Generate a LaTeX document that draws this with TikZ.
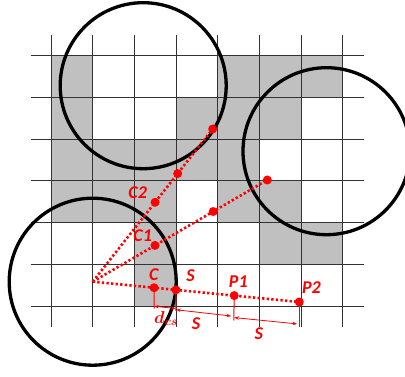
\documentclass[tikz,border=0pt]{standalone}
\usepackage{fontspec}
\setmainfont{Carlito}
\usetikzlibrary{calc,arrows.meta}
\definecolor{cellgray}{RGB}{192,192,192}
\definecolor{pred}{RGB}{255,0,0}
\tikzset{
  gridline/.style={line width=1pt, draw=black!80},
  bigcircle/.style={line width=3.3pt, draw=black},
  rayline/.style={draw=pred, line width=2.6pt, dash pattern=on 2.3pt off 2.3pt},
  rdot/.style={circle, fill=pred, inner sep=0pt, minimum size=9pt},
  lbl/.style={text=pred, inner sep=0pt, font=\bfseries\itshape\fontsize{18}{18}\selectfont},
  mathlbl/.style={text=pred, inner sep=0pt, font=\boldmath\fontsize{17}{17}\selectfont},
  tickline/.style={draw=pred, line width=1pt},
  dimarrow/.style={draw=pred, line width=0.8pt, {Stealth[length=4.5pt,width=3.5pt]}-{Stealth[length=4.5pt,width=3.5pt]}}
}
\begin{document}
\begin{tikzpicture}[x=1pt,y=-1pt]
\useasboundingbox (0,0) rectangle (405,377);
\clip (0,0) rectangle (405,377);
% gray cells
\foreach \c/\r in {0/0,4/0,5/0,6/0, 0/1,3/1,4/1,5/1, 0/2,1/2,2/2,3/2,4/2, 0/3,1/3,2/3,4/3,5/3, 2/4,5/4,6/4, 2/5}
  \fill[cellgray] (51+41.667*\c,56+41.667*\r) rectangle ++(41.667,41.667);
% grid
\foreach \i in {0,...,7}
  \draw[gridline] (51+41.667*\i,35) -- (51+41.667*\i,327);
\foreach \j in {0,...,6}
  \draw[gridline] (30.5,56+41.667*\j) -- (364,56+41.667*\j);
% circles
\coordinate (O) at (92.7,281.7);
\coordinate (K1) at (143.2,85.7);
\coordinate (K2) at (326.5,151.2);
\draw[bigcircle] (K1) circle[radius=83];
\draw[bigcircle] (K2) circle[radius=83.5];
\draw[bigcircle] (O) circle[radius=83.5];
% ray end points
\coordinate (P2) at (299.3,302);
\coordinate (T1) at (267.3,180);
\coordinate (T2) at (212.7,129);
\coordinate (C) at ($(O)!0.297!(P2)$);
\coordinate (S) at ($(O)!0.403!(P2)$);
\coordinate (P1) at ($(O)!0.685!(P2)$);
\coordinate (C1) at ($(O)!0.357!(T1)$);
\coordinate (M1) at ($(O)!0.69!(T1)$);
\coordinate (C2) at ($(O)!0.52!(T2)$);
\coordinate (M2) at ($(O)!0.708!(T2)$);
% rays
\draw[rayline] (O) -- (P2);
\draw[rayline] (O) -- (T1);
\draw[rayline] (O) -- (T2);
% dots
\foreach \p in {C,S,P1,P2,C1,M1,T1,C2,M2,T2}
  \node[rdot] (d\p) at (\p) {};
% ticks
\coordinate (Cb) at (154,308.5);
\coordinate (Sb) at (176,311);
\coordinate (P1b) at (233.8,320.5);
\coordinate (P2b) at (299.3,327);
\draw[tickline] (C) -- (Cb);
\draw[tickline] (S) -- (Sb);
\draw[tickline] (P1) -- (P1b);
\draw[tickline, line width=1.4pt] (P2) -- (P2b);
% dimension arrows
\coordinate (dA1) at (154.3,306.3);
\coordinate (dA2) at (175.7,308.5);
\coordinate (dB1) at (176.3,309.8);
\coordinate (dB2) at (231,316);
\coordinate (dC1) at (234.3,317.6);
\coordinate (dC2) at (297,323.9);
\draw[dimarrow] (dA1) -- (dA2);
\draw[dimarrow] (dB1) -- (dB2);
\draw[dimarrow] (dC1) -- (dC2);
% labels
\node[lbl] (lC2) at (137.7,193) {C2};
\node[lbl] (lC1) at (142.7,236) {C1};
\node[lbl] (lC) at (153.8,274.7) {C};
\node[lbl] (lS) at (190.5,275.3) {S};
\node[lbl] (lP1) at (238.3,282) {P1};
\node[lbl] (lP2) at (311.5,287.5) {P2};
\node[lbl] (lS1) at (196,323.3) {S};
\node[lbl] (lS2) at (258.8,333.3) {S};
\node[mathlbl] (ldcs) at (166,318.5) {$d_{cs}$};
\end{tikzpicture}
\end{document}
